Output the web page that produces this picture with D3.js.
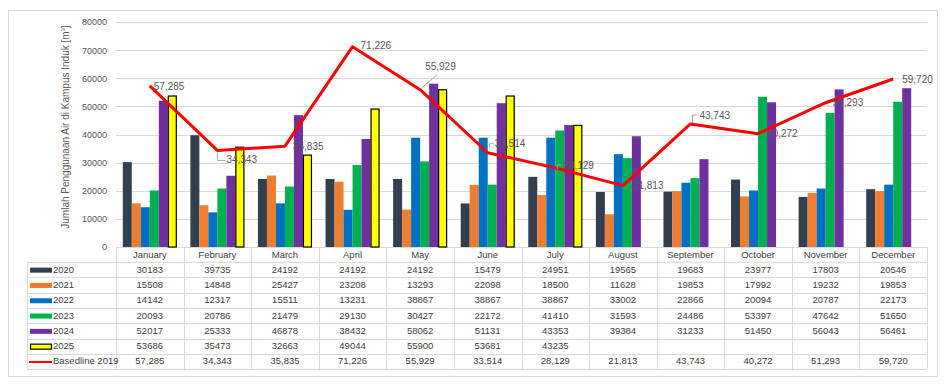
<!DOCTYPE html>
<html><head><meta charset="utf-8">
<script src="https://cdn.jsdelivr.net/npm/d3@7"></script>
<style>
body{margin:0;background:#fff;}
svg{display:block;font-family:"Liberation Sans",Arial,sans-serif;}
</style></head>
<body>
<svg id="c" width="950" height="386"></svg>
<script>
const months = ["January","February","March","April","May","June","July","August","September","October","November","December"];
const seriesNames = ["2020","2021","2022","2023","2024","2025"];
const v2020 = [30183,39735,24192,24192,24192,15479,24951,19565,19683,23977,17803,20546];
const v2021 = [15508,14848,25427,23208,13293,22098,18500,11628,19853,17992,19232,19853];
const v2022 = [14142,12317,15511,13231,38867,38867,38867,33002,22866,20094,20787,22173];
const v2023 = [20093,20786,21479,29130,30427,22172,41410,31593,24486,53397,47642,51650];
const v2024 = [52017,25333,46878,38432,58062,51131,43353,39384,31233,51450,56043,56461];
const v2025 = [53686,35473,32663,49044,55900,53681,43235,null,null,null,null,null];
const baselineName = "Basedline 2019";
const baseline = [57285,34343,35835,71226,55929,33514,28129,21813,43743,40272,51293,59720];
const yTicks = [0,10000,20000,30000,40000,50000,60000,70000,80000];

const seriesValues = [v2020,v2021,v2022,v2023,v2024,v2025];
const colors = ["#323F4F","#ED7D31","#0070C0","#00B050","#7030A0","#FFFF00"];
// label placement (layout config): [dx, dy, leaderType]
const labelLayout = [[4,1,0],[9,10,"L"],[8,1,0],[8,0,0],[5,-22,"D"],[7,-8,"C"],[8,-2,"C"],[10,1,0],[9,-8,"C2"],[9,1,0],[7,1,0],[9,1,0]];

const svg = d3.select("#c");
const L=116, R=927, T=22, B=247;
const x = d3.scaleBand().domain(months).range([L,R]).padding(0);
const bw = x.bandwidth();
const inner = d3.scaleBand().domain(seriesNames).range([(bw-54)/2,(bw+54)/2]).padding(0);
const y = d3.scaleLinear().domain([0,80000]).range([B,T]);

// outer border
svg.append("rect").attr("x",8.5).attr("y",10.5).attr("width",929).attr("height",366)
  .attr("fill","none").attr("stroke","#D9D9D9");

// gridlines
svg.append("g").selectAll("line").data(yTicks).join("line")
  .attr("x1",L).attr("x2",R).attr("y1",d=>Math.round(y(d))+0.5).attr("y2",d=>Math.round(y(d))+0.5)
  .attr("stroke","#D9D9D9").attr("stroke-width",1);

// y axis labels
const yAxis = d3.axisLeft(y).tickValues(yTicks).tickSize(0).tickPadding(9).tickFormat(d3.format("d"));
const ga = svg.append("g").attr("transform",`translate(${L},0)`).call(yAxis);
ga.select(".domain").remove();
ga.selectAll("text").attr("fill","#595959").attr("font-size","9px").attr("font-family","Liberation Sans, Arial, sans-serif");

// y title
svg.append("text").attr("transform",`translate(66,127) rotate(-90)`).attr("text-anchor","middle")
  .attr("dominant-baseline","middle").attr("fill","#595959").attr("font-size","10px")
  .html('Jumlah Penggunaan Air di Kampus Induk [m<tspan dy="-3" font-size="6px">3</tspan><tspan dy="3">]</tspan>');

// bars
const bg = svg.append("g");
seriesValues.forEach((vals,si)=>{
  const data = vals.map((v,i)=>({v,m:months[i]})).filter(d=>d.v!=null);
  bg.selectAll(null).data(data).join("rect")
    .attr("x",d=>x(d.m)+inner(seriesNames[si]) + (si===5?0.5:0))
    .attr("width",inner.bandwidth() - (si===5?1:0))
    .attr("y",d=>y(d.v)).attr("height",d=>B-y(d.v))
    .attr("fill",colors[si])
    .attr("stroke",si===5?"#000":"none").attr("stroke-width",si===5?1.2:0);
});

// baseline line
const pts = baseline.map((v,i)=>({v,i,px:x(months[i])+bw/2,py:y(v)}));
const line = d3.line().x(d=>d.px).y(d=>d.py);
svg.append("path").datum(pts).attr("d",line).attr("fill","none").attr("stroke","#FF0000")
  .attr("stroke-width",3).attr("stroke-linejoin","round");

// data labels (on top)
const lg = svg.append("g");
pts.forEach(p=>{
  const [dx,dy,t] = labelLayout[p.i];
  const tx=p.px+dx, ty=p.py+dy;
  let path=null;
  if(t==="L") path=`M${p.px},${p.py+2}V${ty}H${tx-1}`;
  if(t==="D") path=`M${p.px+2},${p.py-2}L${tx+12},${ty+7}`;
  if(t==="C") path=`M${p.px+2},${ty+3}V${ty-1}H${p.px+6}`;
  if(t==="C2") path=`M${p.px+2},${p.py-1}V${ty-1}H${tx-3}`;
  if(path) lg.append("path").attr("d",path).attr("fill","none").attr("stroke","#A6A6A6").attr("stroke-width",1);
  lg.append("text").attr("x",tx).attr("y",ty).attr("dominant-baseline","middle")
    .attr("fill","#595959").attr("font-size","10px").text(d3.format(",")(p.v));
});

// data table
const rowTop=262, rowH=15.3;
const tbl = svg.append("g").attr("font-size","9.5px").attr("fill","#404040");
const lineC="#D9D9D9";
const rows = seriesNames.length+1;
const tBottom = rowTop+rows*rowH;
d3.range(rows+1).forEach(r=>{
  const yy=Math.round(rowTop+r*rowH)+0.5;
  tbl.append("line").attr("x1",27).attr("x2",R).attr("y1",yy).attr("y2",yy).attr("stroke",lineC);
});
tbl.append("line").attr("x1",27.5).attr("x2",27.5).attr("y1",rowTop).attr("y2",tBottom).attr("stroke",lineC);
months.concat(["end"]).forEach((m,i)=>{
  const xx = Math.round(L+i*bw)+0.5;
  tbl.append("line").attr("x1",xx).attr("x2",xx).attr("y1",B).attr("y2",tBottom).attr("stroke",lineC);
});
tbl.selectAll(null).data(months).join("text")
  .attr("x",d=>x(d)+bw/2).attr("y",B+8).attr("text-anchor","middle").attr("dominant-baseline","middle")
  .attr("fill","#404040").text(d=>d);
const allRows = seriesValues.map((vals,si)=>({name:seriesNames[si],vals,fmt:d3.format("d"),si}))
  .concat([{name:baselineName,vals:baseline,fmt:d3.format(","),si:6}]);
allRows.forEach((row,r)=>{
  const cy = rowTop + r*rowH + rowH/2 + 0.5;
  if(row.si<5){
    tbl.append("rect").attr("x",30).attr("y",cy-2.5).attr("width",22).attr("height",5).attr("fill",colors[row.si]);
  } else if(row.si===5){
    tbl.append("rect").attr("x",30.5).attr("y",cy-2.5).attr("width",21).attr("height",5).attr("fill",colors[5]).attr("stroke","#000").attr("stroke-width",1.2);
  } else {
    tbl.append("line").attr("x1",29).attr("x2",52).attr("y1",cy).attr("y2",cy).attr("stroke","#FF0000").attr("stroke-width",2);
  }
  tbl.append("text").attr("x",53).attr("y",cy).attr("dominant-baseline","middle").attr("fill","#404040").text(row.name);
  row.vals.forEach((v,i)=>{
    if(v==null) return;
    tbl.append("text").attr("x",x(months[i])+bw/2).attr("y",cy).attr("text-anchor","middle")
      .attr("dominant-baseline","middle").attr("fill","#404040").text(row.fmt(v));
  });
});
</script>
</body></html>
